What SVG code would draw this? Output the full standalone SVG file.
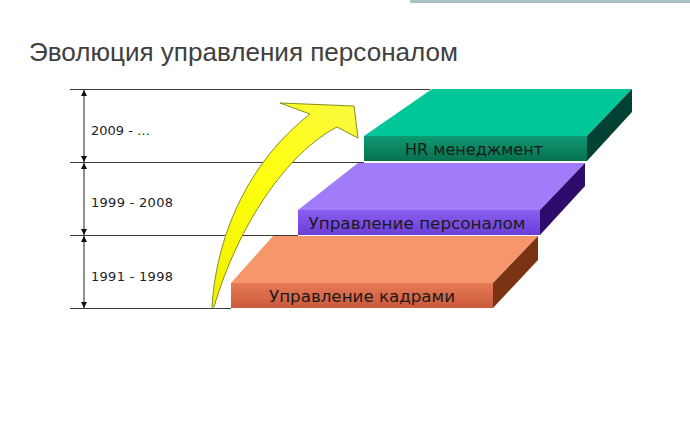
<svg xmlns="http://www.w3.org/2000/svg" width="690" height="430" viewBox="0 0 690 430">
<defs>
<style>
.grid{stroke:#3a3a3a;stroke-width:1;fill:none}
.axis{stroke:#222;stroke-width:1;fill:none;marker-start:url(#ah);marker-end:url(#ah)}
.yr{font-family:"DejaVu Sans",Verdana,sans-serif;font-size:13px;fill:#222}
.lbl{font-family:"DejaVu Sans",Verdana,sans-serif;font-size:16px;fill:#1a1a1a;text-anchor:middle}
</style>
<marker id="ah" viewBox="0 0 8 8" refX="8" refY="4" markerWidth="6" markerHeight="6" orient="auto-start-reverse" markerUnits="userSpaceOnUse">
<path d="M0,0 L8,4 L0,8 Z" fill="#111"/>
</marker>
<linearGradient id="fo" x1="0" y1="0" x2="0" y2="1"><stop offset="0" stop-color="#E67A55"/><stop offset="1" stop-color="#C95A3C"/></linearGradient>
<linearGradient id="fp" x1="0" y1="0" x2="0" y2="1"><stop offset="0" stop-color="#8A5EF0"/><stop offset="1" stop-color="#6A3ED8"/></linearGradient>
<linearGradient id="fg" x1="0" y1="0" x2="0" y2="1"><stop offset="0" stop-color="#0E9A72"/><stop offset="1" stop-color="#07704F"/></linearGradient>
<linearGradient id="yl" x1="0" y1="1" x2="1" y2="0"><stop offset="0" stop-color="#F0F000"/><stop offset="0.5" stop-color="#FFFF10"/><stop offset="1" stop-color="#F8F840"/></linearGradient>
</defs>
<rect width="690" height="430" fill="#ffffff"/>
<rect x="410" y="0" width="280" height="3" fill="#A9C3C2"/>
<text x="29" y="61" font-family="'Liberation Sans',Arial,sans-serif" font-size="25" fill="#404040" textLength="429" lengthAdjust="spacingAndGlyphs">Эволюция управления персоналом</text>

<g id="grid">
<line class="grid" x1="70" y1="89.5" x2="430" y2="89.5"/>
<line class="grid" x1="70" y1="162.5" x2="364" y2="162.5"/>
<line class="grid" x1="70" y1="235.5" x2="298" y2="235.5"/>
<line class="grid" x1="70" y1="308.5" x2="231" y2="308.5"/>
</g>
<g id="axis">
<line class="axis" x1="84" y1="90" x2="84" y2="162"/>
<line class="axis" x1="84" y1="163" x2="84" y2="235"/>
<line class="axis" x1="84" y1="236" x2="84" y2="308"/>
</g>
<g id="years">
<text class="yr" x="91" y="135">2009 - …</text>
<text class="yr" x="91" y="207" textLength="82">1999 - 2008</text>
<text class="yr" x="91" y="281" textLength="82">1991 - 1998</text>
</g>

<g id="slab-kadry">
<polygon points="231,283 273,236 538,236 493,283" fill="#F6976B"/>
<polygon points="493,283 538,236 538,260 493,308" fill="#7A3414"/>
<rect x="231" y="283" width="262" height="25" fill="url(#fo)"/>
<text class="lbl" x="362" y="302" textLength="186" lengthAdjust="spacingAndGlyphs">Управление кадрами</text>
</g>
<g id="slab-personal">
<polygon points="298,210 358,163 585,163 540,210" fill="#A07CFB"/>
<polygon points="540,210 585,163 585,186 540,235" fill="#2E0C6C"/>
<rect x="298" y="210" width="242" height="25" fill="url(#fp)"/>
<text class="lbl" x="417" y="229" textLength="217" lengthAdjust="spacingAndGlyphs">Управление персоналом</text>
</g>
<g id="slab-hr">
<polygon points="364,136 432,89 632,89 587,136" fill="#00C79A"/>
<polygon points="587,136 632,89 632,112 587,161" fill="#034232"/>
<rect x="364" y="136" width="223" height="25" fill="url(#fg)"/>
<text class="lbl" x="474" y="155" textLength="138" lengthAdjust="spacingAndGlyphs" fill="#0B2A20">HR менеджмент</text>
</g>

<g id="connectors">
<path d="M212,307 C216,240 245,165 310,114 L280,103 L354,106 L358,138 L337,127 C287,153 238,225 214,307 Z" fill="url(#yl)" stroke="#8C8C20" stroke-width="1" stroke-linejoin="miter"/>
</g>
</svg>
